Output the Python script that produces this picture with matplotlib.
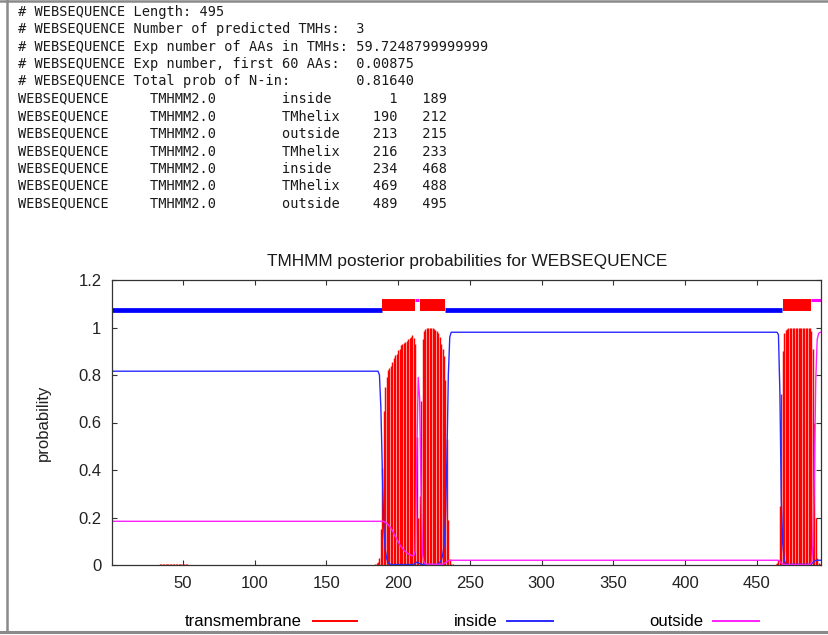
import matplotlib
matplotlib.use('Agg')
import matplotlib.pyplot as plt
from matplotlib.lines import Line2D

plt.rcParams['font.family'] = ['Liberation Sans', 'DejaVu Sans']

seq_name = 'WEBSEQUENCE'
seq_len = 495

header = [
    '# WEBSEQUENCE Length: 495',
    '# WEBSEQUENCE Number of predicted TMHs:  3',
    '# WEBSEQUENCE Exp number of AAs in TMHs: 59.7248799999999',
    '# WEBSEQUENCE Exp number, first 60 AAs:  0.00875',
    '# WEBSEQUENCE Total prob of N-in:        0.81640',
]

# predicted topology (from the TMHMM table)
seg_kind = ['inside', 'TMhelix', 'outside', 'TMhelix', 'inside', 'TMhelix', 'outside']
seg_start = [1, 190, 213, 216, 234, 469, 489]
seg_end = [189, 212, 215, 233, 468, 488, 495]

# posterior probability of transmembrane, per residue (zero elsewhere)
tm_pos = list(range(34, 54)) + list(range(184, 239)) + list(range(462, 495))
tm_val = [0.003, 0.004, 0.005, 0.004, 0.003, 0.004, 0.005, 0.006, 0.005, 0.004,
          0.004, 0.005, 0.006, 0.005, 0.004, 0.003, 0.004, 0.005, 0.004, 0.003,
          # 184-238
          0.004, 0.008, 0.014, 0.03, 0.15, 0.41, 0.65, 0.75, 0.79, 0.82,
          0.83, 0.84, 0.855, 0.87, 0.885, 0.89, 0.905, 0.91, 0.925, 0.93,
          0.935, 0.94, 0.945, 0.95, 0.955, 0.962, 0.968, 0.955, 0.93, 0.54,
          0.20, 0.29, 0.69, 0.95, 0.985, 0.995, 0.997, 0.997, 0.997, 0.997,
          0.996, 0.994, 0.99, 0.985, 0.975, 0.96, 0.93, 0.91, 0.88, 0.78,
          0.53, 0.19, 0.025, 0.006, 0.003,
          # 462-494
          0.002, 0.004, 0.008, 0.02, 0.25, 0.72, 0.9, 0.975, 0.99, 0.995,
          0.997, 0.998, 0.998, 0.998, 0.998, 0.998, 0.998, 0.998, 0.998, 0.998,
          0.998, 0.998, 0.998, 0.998, 0.997,
          0.996, 0.985, 0.91, 0.6, 0.2, 0.03, 0.008, 0.004]

# inside / outside probability, at the residues where it changes
inside_x = [1, 186, 187, 188, 189, 190, 191, 192, 193, 194,
            195, 210, 211, 212, 213, 214, 215, 216, 217,
            227, 228, 229, 230, 231, 232, 233, 234, 235, 236, 237,
            464, 465, 466, 467, 468, 469, 470, 471,
            487, 488, 489, 490, 491, 495]
inside_y = [0.816, 0.816, 0.80, 0.66, 0.40, 0.16, 0.065, 0.028, 0.01, 0.004,
            0.002, 0.002, 0.004, 0.008, 0.012, 0.01, 0.006, 0.003, 0.002,
            0.002, 0.005, 0.01, 0.02, 0.04, 0.08, 0.2, 0.45, 0.8, 0.96, 0.98,
            0.98, 0.97, 0.73, 0.27, 0.09, 0.02, 0.006, 0.003,
            0.003, 0.006, 0.01, 0.015, 0.02, 0.02]

outside_x = [1, 189, 190, 191, 192, 193, 194, 195, 196, 197, 198, 199,
             200, 201, 202, 203, 204, 205, 206, 207, 208, 209,
             210, 211, 212, 213, 214, 215, 216, 217, 218, 219, 220,
             231, 232, 233, 234, 235, 236, 237,
             465, 466, 467, 468, 469,
             487, 488, 489, 490, 491, 492, 493, 494, 495]
outside_y = [0.184, 0.184, 0.183, 0.18, 0.176, 0.17, 0.163, 0.155, 0.145, 0.133, 0.121, 0.11,
             0.098, 0.087, 0.078, 0.07, 0.063, 0.057, 0.052, 0.048, 0.044, 0.041,
             0.039, 0.04, 0.06, 0.45, 0.79, 0.70, 0.30, 0.045, 0.012, 0.005, 0.003,
             0.003, 0.006, 0.01, 0.014, 0.017, 0.019, 0.02,
             0.02, 0.015, 0.008, 0.004, 0.002,
             0.002, 0.01, 0.08, 0.38, 0.78, 0.95, 0.975, 0.98, 0.98]

xticks = [50, 100, 150, 200, 250, 300, 350, 400, 450]
yticks = [0, 0.2, 0.4, 0.6, 0.8, 1, 1.2]
ytick_labels = ['0', '0.2', '0.4', '0.6', '0.8', '1', '1.2']

W, H = 829, 635


def fx(px):
    return px / W


def fy(py):
    return 1 - py / H


fig = plt.figure(figsize=(W / 100, H / 100), dpi=100)

# text output above the plot
rows = ['%s\tTMHMM2.0\t%s\t%6d%6d' % (seq_name, k, s, e)
        for k, s, e in zip(seg_kind, seg_start, seg_end)]
for i, line in enumerate(header + rows):
    fig.text(fx(18), fy(11.7 + 17.4 * i), line.expandtabs(8), family='DejaVu Sans Mono',
             fontsize=9.8, ha='left', va='center', color='#1a1a1a')

ax = fig.add_axes([fx(112.5), fy(565), (821.5 - 112.5) / W, (565 - 280) / H])

ax.vlines(tm_pos, 0, tm_val, colors='#ff0000', linewidth=1.05, label='transmembrane')
ax.plot(inside_x, inside_y, color='#2a2aff', lw=1.0, label='inside')
ax.plot(outside_x, outside_y, color='#ff20ff', lw=1.0, label='outside')

# topology bars above the curves
level = {'inside': 1.072, 'TMhelix': 1.095, 'outside': 1.115}
width = {'inside': 3.4, 'TMhelix': 8.6, 'outside': 2.2}
colour = {'inside': '#0000ff', 'TMhelix': '#ff0000', 'outside': '#ff00ff'}
for k, s, e in zip(seg_kind, seg_start, seg_end):
    ax.hlines(level[k], s - 1, e - 0.5, colors=colour[k], linewidth=width[k], capstyle='butt')

ax.set_xlim(1, seq_len)
ax.set_ylim(0, 1.2)
ax.set_xticks(xticks)
ax.set_yticks(yticks)
ax.set_yticklabels(ytick_labels)
ax.tick_params(direction='in', top=True, right=True, length=3.5, width=0.8,
               labelsize=12, labelcolor='#222222', color='#333333', pad=8)
for sp in ax.spines.values():
    sp.set_color('#333333')
    sp.set_linewidth(0.9)

ax.set_title('TMHMM posterior probabilities for %s' % seq_name, fontsize=12.4, pad=10, color='#1a1a1a')
ax.set_ylabel('probability', fontsize=12, color='#222222')
ax.yaxis.set_label_coords(-0.087, 0.5)

leg = ax.legend(loc='center', bbox_to_anchor=(fx(472), fy(622)), bbox_transform=fig.transFigure,
                ncol=3, frameon=False, markerfirst=False, fontsize=12,
                handlelength=2.76, handletextpad=0.6, columnspacing=5.75, borderpad=0)
for h in leg.legend_handles:
    h.set_linewidth(1.4)

# screenshot border
grey = '#8a8a8a'
fig.add_artist(Line2D([0, 1], [fy(1.3), fy(1.3)], color=grey, lw=1.8, transform=fig.transFigure))
fig.add_artist(Line2D([fx(7.5), fx(7.5)], [fy(0), fy(632)], color=grey, lw=1.8, transform=fig.transFigure))
fig.add_artist(Line2D([0, 1], [fy(631.5), fy(631.5)], color=grey, lw=2.2, transform=fig.transFigure))

fig.savefig('out.png', dpi=100)
